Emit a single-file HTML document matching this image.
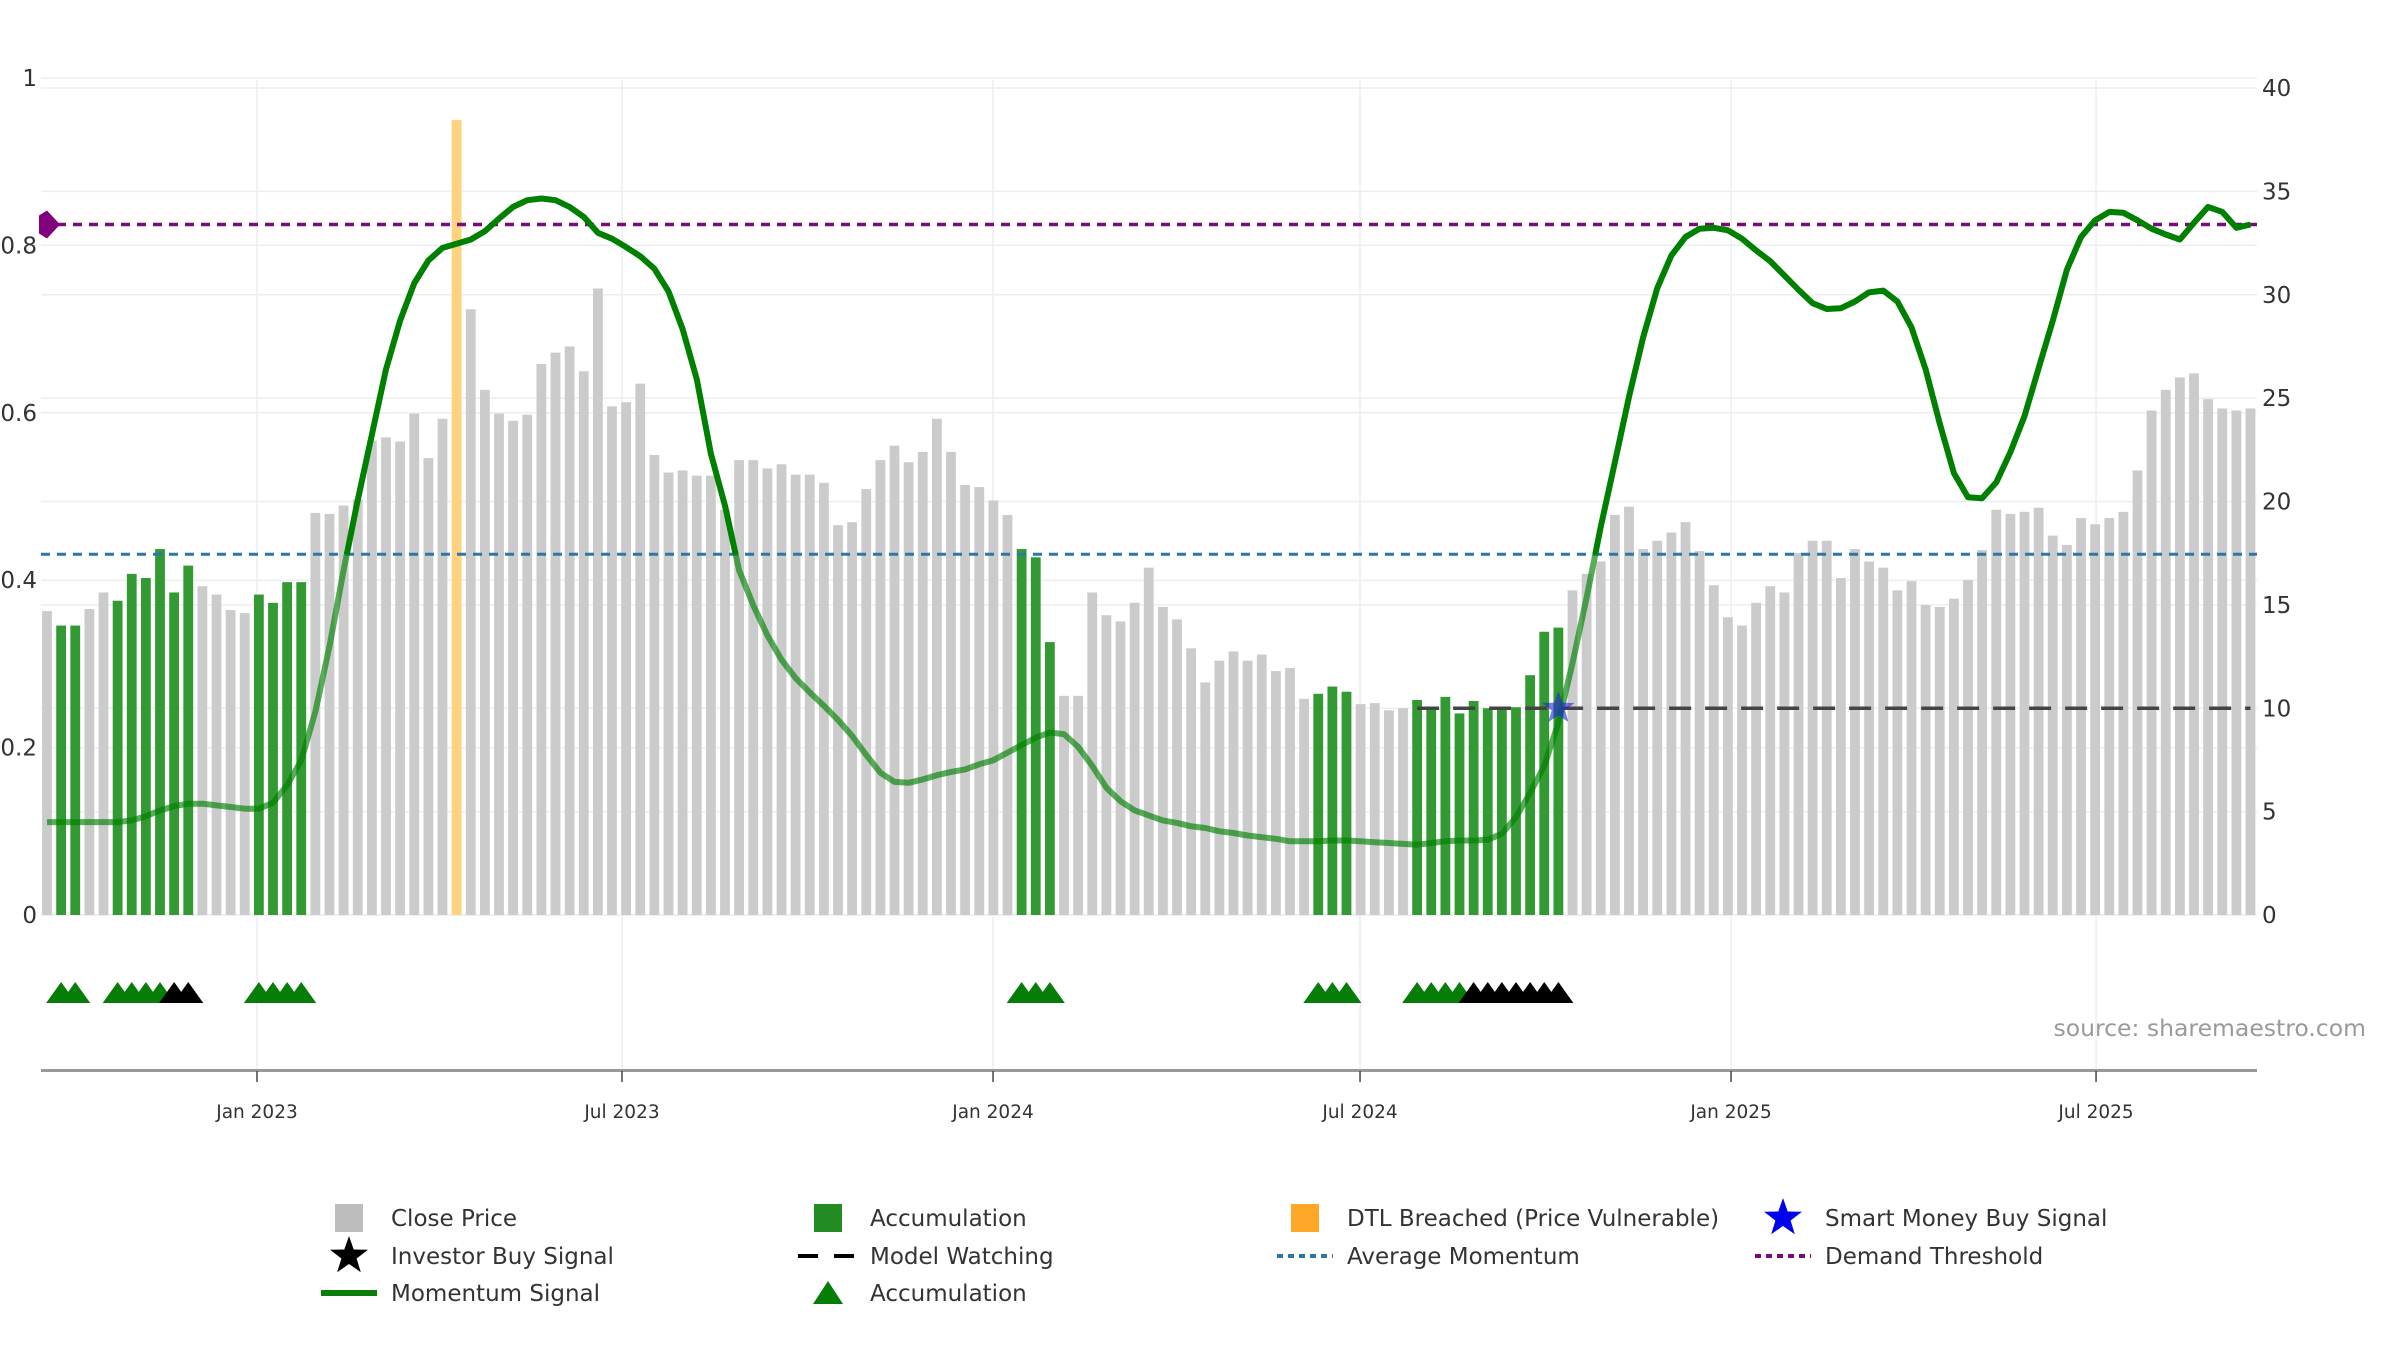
<!DOCTYPE html>
<html><head><meta charset="utf-8"><title>Momentum Chart</title>
<style>
html,body{margin:0;padding:0;background:#fff;}
svg{display:block;font-family:"DejaVu Sans","Liberation Sans",sans-serif;}
</style></head>
<body>
<svg id="chart" width="2400" height="1350" viewBox="0 0 2400 1350" xmlns="http://www.w3.org/2000/svg">
<defs>
<clipPath id="clipAbove"><rect x="0" y="0" width="2400" height="554"/></clipPath>
<clipPath id="clipBelow"><rect x="0" y="554" width="2400" height="500"/></clipPath>
</defs>
<g id="grid"></g>
<g id="bars"></g>
<g id="lines"></g>
<g id="axes"></g>
<g id="markers"></g>
<text x="2366" y="1036" text-anchor="end" font-size="23.5" fill="#9a9a9a">source: sharemaestro.com</text>
<g id="legend"></g>
</svg>
<script>
const prices = [14.7,14.0,14.0,14.8,15.6,15.2,16.5,16.3,17.7,15.6,
16.9,15.9,15.5,14.75,14.6,15.5,15.1,16.1,16.1,19.45,
19.4,19.8,20.1,22.95,23.1,22.9,24.25,22.1,24.0,24.5,
29.3,25.4,24.25,23.9,24.2,26.65,27.2,27.5,26.3,30.3,
24.6,24.8,25.7,22.25,21.4,21.5,21.25,21.25,19.6,22.0,
22.0,21.6,21.8,21.3,21.3,20.9,18.85,19.0,20.6,22.0,
22.7,21.9,22.4,24.0,22.4,20.8,20.7,20.05,19.35,17.7,
17.3,13.2,10.6,10.6,15.6,14.5,14.2,15.1,16.8,14.9,
14.3,12.9,11.25,12.3,12.75,12.3,12.6,11.8,11.95,10.45,
10.7,11.05,10.8,10.2,10.25,9.9,10.0,10.4,10.05,10.55,
9.75,10.35,10.0,10.0,10.05,11.6,13.7,13.9,15.7,16.5,
17.1,19.35,19.75,17.7,18.1,18.5,19.0,17.6,15.95,14.4,
14.0,15.1,15.9,15.6,17.5,18.1,18.1,16.3,17.7,17.1,
16.8,15.7,16.15,15.0,14.9,15.3,16.2,17.65,19.6,19.4,
19.5,19.7,18.35,17.9,19.2,18.9,19.2,19.5,21.5,24.4,
25.4,26.0,26.2,24.95,24.5,24.4,24.5];
const momentum = [.111,.111,.111,.111,.111,.111,.113,.118,.125,.13,
.133,.133,.131,.129,.127,.127,.134,.155,.185,.243,
.321,.412,.496,.574,.652,.71,.755,.782,.797,.802,
.807,.817,.832,.846,.854,.856,.854,.846,.834,.815,
.808,.798,.787,.772,.745,.70,.64,.551,.489,.412,
.37,.334,.305,.283,.266,.25,.233,.214,.191,.17,
.159,.158,.162,.167,.171,.174,.18,.185,.194,.203,
.212,.218,.216,.201,.178,.152,.136,.125,.119,.113,
.11,.106,.104,.10,.098,.095,.093,.091,.088,.088,
.088,.089,.089,.088,.087,.086,.085,.084,.086,.088,
.089,.089,.09,.097,.117,.146,.178,.23,.301,.379,
.464,.541,.619,.69,.749,.788,.81,.82,.821,.818,
.808,.794,.781,.764,.747,.731,.724,.725,.733,.744,
.746,.733,.702,.652,.587,.528,.499,.498,.517,.553,
.596,.653,.71,.771,.81,.83,.84,.839,.83,.82,
.813,.807,.827,.846,.84,.821,.825];
const accumulationBars = [2,3,6,7,8,9,10,11,16,17,18,19,70,71,72,91,92,93,98,99,100,101,102,103,104,105,106,107,108];
const dtlBars = [30];
const dtlLevel = 0.95;
const greenTriangles = [2,3,6,7,8,9,16,17,18,19,70,71,72,91,92,93,98,99,100,101];
const blackTriangles = [10,11,102,103,104,105,106,107,108];
const smartMoneyBar = 108;
const smartMoneyValue = 10;
const modelWatchStart = 98;
const modelWatchValue = 10;
const avgMomentum = 0.431;
const demandThreshold = 0.825;
const leftTicks = [0,0.2,0.4,0.6,0.8,1];
const leftTickLabels = ["0","0.2","0.4","0.6","0.8","1"];
const rightTicks = [0,5,10,15,20,25,30,35,40];
const dateTicks = ["2023-01-01","2023-07-01","2024-01-01","2024-07-01","2025-01-01","2025-07-01"];
const dateTickLabels = ["Jan 2023","Jul 2023","Jan 2024","Jul 2024","Jan 2025","Jul 2025"];

const NS="http://www.w3.org/2000/svg";
const PL=41, PR=2257, Y0=915;
function xBar(i){return 47+(i-1)*14.125;}
function yPrice(v){return Y0-v*20.675;}
function yMom(v){return Y0-v*837;}
function xDate(s){const d=(Date.parse(s)-Date.parse("2023-01-01"))/86400000;return 257+d*2.0165;}
function mk(tag,attrs,parent){const e=document.createElementNS(NS,tag);for(const k in attrs)e.setAttribute(k,attrs[k]);parent.appendChild(e);return e;}

const grid=document.getElementById('grid');
rightTicks.forEach(t=>{const l=mk('line',{x1:PL,x2:PR,y1:yPrice(t),y2:yPrice(t),stroke:'#eceef2','stroke-width':1.5},grid);

});
leftTicks.forEach(t=>{const l=mk('line',{x1:PL,x2:PR,y1:yMom(t),y2:yMom(t),stroke:'#eceef2','stroke-width':1.5},grid);

});
dateTicks.forEach(d=>{const l=mk('line',{x1:xDate(d),x2:xDate(d),y1:80,y2:1070,stroke:'#eceef2','stroke-width':1.5},grid);

});

const bars=document.getElementById('bars');
prices.forEach((v,k)=>{const i=k+1;
 if(dtlBars.includes(i)){const r=mk('rect',{x:xBar(i)-4.9,y:yMom(dtlLevel),width:9.8,height:Y0-yMom(dtlLevel),fill:'#ffd27f'},bars);
  
  return;}
 const acc=accumulationBars.includes(i);
 const r=mk('rect',{x:xBar(i)-4.9,y:yPrice(v),width:9.8,height:Y0-yPrice(v),fill:acc?'#339a33':'#cbcbcb'},bars);
 
 
});

const lines=document.getElementById('lines');
let a=mk('line',{x1:PL,x2:PR,y1:yMom(avgMomentum),y2:yMom(avgMomentum),stroke:'#2d77a6','stroke-width':3,'stroke-dasharray':'9 7'},lines);


let dm=mk('line',{x1:PL,x2:PR,y1:yMom(demandThreshold),y2:yMom(demandThreshold),stroke:'#7a0a7a','stroke-width':3.5,'stroke-dasharray':'9 7'},lines);


let mw=mk('line',{x1:xBar(modelWatchStart),x2:xBar(prices.length),y1:yPrice(modelWatchValue),y2:yPrice(modelWatchValue),stroke:'#444','stroke-width':3.5,'stroke-dasharray':'22 14'},lines);


const pts=momentum.map((v,k)=>xBar(k+1).toFixed(1)+','+yMom(v).toFixed(1)).join(' ');
let m1=mk('polyline',{points:pts,fill:'none',stroke:'#008000','stroke-width':6,'stroke-linejoin':'round','clip-path':'url(#clipAbove)'},lines);


let m2=mk('polyline',{points:pts,fill:'none',stroke:'#008000','stroke-opacity':0.65,'stroke-width':6,'stroke-linejoin':'round','clip-path':'url(#clipBelow)'},lines);


let dia=mk('polygon',{points:`${PL-2},${yMom(demandThreshold)-9} ${PL+6},${yMom(demandThreshold)-14} ${PL+19},${yMom(demandThreshold)} ${PL+6},${yMom(demandThreshold)+14} ${PL-2},${yMom(demandThreshold)+9}`,fill:'#800080'},lines);



const axes=document.getElementById('axes');
let ax=mk('line',{x1:PL,x2:PR,y1:1070.5,y2:1070.5,stroke:'#999','stroke-width':3},axes);


dateTicks.forEach((d,k)=>{const x=xDate(d);
 const t=mk('line',{x1:x,x2:x,y1:1071,y2:1082,stroke:'#444','stroke-width':1.5},axes);
 
 
 const tx=mk('text',{x:x,y:1118,'text-anchor':'middle','font-size':18.5,fill:'#333'},axes);
 tx.textContent=dateTickLabels[k];
 
 });
leftTicks.forEach((t,k)=>{const tx=mk('text',{x:37,y:yMom(t)+8,'text-anchor':'end','font-size':23,fill:'#333'},axes);
 tx.textContent=leftTickLabels[k];
 
 });
rightTicks.forEach(t=>{const tx=mk('text',{x:2262,y:yPrice(t)+8,'font-size':23,fill:'#333'},axes);
 tx.textContent=String(t);
 
 });

const markers=document.getElementById('markers');
function tri(i,color,name){const x=xBar(i),y=993;
 const p=mk('polygon',{points:`${x},${y-11} ${x-15},${y+10} ${x+15},${y+10}`,fill:color},markers);
 
 }
greenTriangles.forEach(i=>tri(i,'#067d06','accumulation-triangle'));
blackTriangles.forEach(i=>tri(i,'#000','investor-buy-triangle'));
function starPts(cx,cy,R,r){let s=[];for(let k=0;k<10;k++){const ang=-Math.PI/2+k*Math.PI/5;const rr=k%2?r:R;s.push((cx+rr*Math.cos(ang)).toFixed(1)+','+(cy+rr*Math.sin(ang)).toFixed(1));}return s.join(' ');}
let st=mk('polygon',{points:starPts(xBar(smartMoneyBar),yPrice(smartMoneyValue),17,7),fill:'#2222dd','fill-opacity':0.6},markers);



const lg=document.getElementById('legend');
const legendItems=[
 {x:349,y:1218,t:'Close Price',k:'sq',c:'#bdbdbd',n:'legend-close-price'},
 {x:828,y:1218,t:'Accumulation',k:'sq',c:'#228b22',n:'legend-accumulation-bar'},
 {x:1305,y:1218,t:'DTL Breached (Price Vulnerable)',k:'sq',c:'#ffa726',n:'legend-dtl-breached'},
 {x:1783,y:1218,t:'Smart Money Buy Signal',k:'star',c:'#0000ee',n:'legend-smart-money'},
 {x:349,y:1256,t:'Investor Buy Signal',k:'star',c:'#000',n:'legend-investor-buy'},
 {x:828,y:1256,t:'Model Watching',k:'dash',c:'#000',n:'legend-model-watching'},
 {x:1305,y:1256,t:'Average Momentum',k:'dot',c:'#2d77a6',n:'legend-average-momentum'},
 {x:1783,y:1256,t:'Demand Threshold',k:'dot',c:'#7a0a7a',n:'legend-demand-threshold'},
 {x:349,y:1293,t:'Momentum Signal',k:'line',c:'#0a7d0a',n:'legend-momentum-signal'},
 {x:828,y:1293,t:'Accumulation',k:'tri',c:'#067d06',n:'legend-accumulation-triangle'}
];
legendItems.forEach(it=>{
 const g=mk('g',{},lg);
 
 
 if(it.k==='sq')mk('rect',{x:it.x-14,y:it.y-14,width:28,height:28,fill:it.c},g);
 else if(it.k==='star')mk('polygon',{points:starPts(it.x,it.y,20,8),fill:it.c},g);
 else if(it.k==='tri')mk('polygon',{points:`${it.x},${it.y-12} ${it.x-15},${it.y+11} ${it.x+15},${it.y+11}`,fill:it.c},g);
 else if(it.k==='line')mk('line',{x1:it.x-28,x2:it.x+28,y1:it.y,y2:it.y,stroke:it.c,'stroke-width':6},g);
 else if(it.k==='dash')mk('line',{x1:it.x-30,x2:it.x+30,y1:it.y,y2:it.y,stroke:it.c,'stroke-width':4,'stroke-dasharray':'20 16'},g);
 else if(it.k==='dot')mk('line',{x1:it.x-28,x2:it.x+28,y1:it.y,y2:it.y,stroke:it.c,'stroke-width':4,'stroke-dasharray':'6 5'},g);
 const tx=mk('text',{x:it.x+42,y:it.y+8,'font-size':23,fill:'#333'},g);
 tx.textContent=it.t;
});
</script>
</body></html>
